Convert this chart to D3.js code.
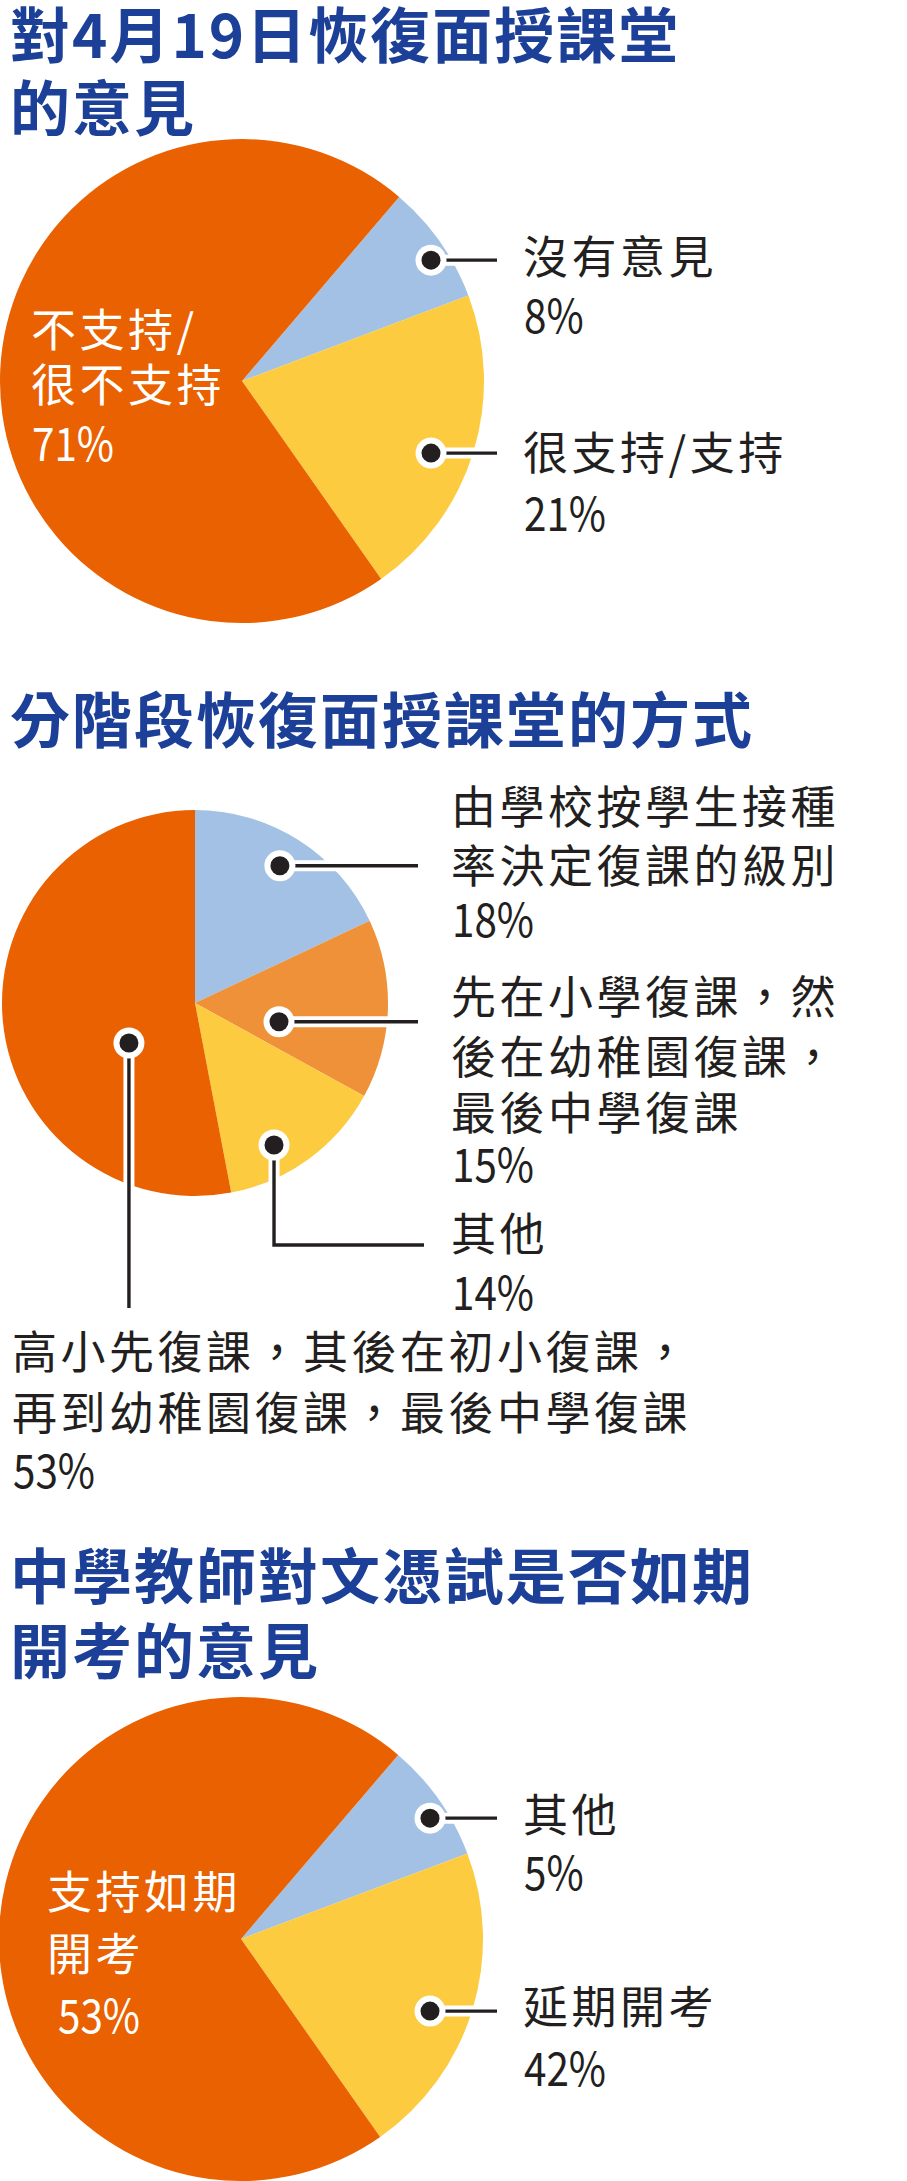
<!DOCTYPE html>
<html><head><meta charset="utf-8">
<script src="https://cdn.jsdelivr.net/npm/d3@7"></script>
<style>html,body{margin:0;padding:0;background:#fff}svg{display:block}</style>
</head><body>
<svg id="c" width="907" height="2181"></svg>
<script>
// ---------- DATA ----------
// Chart 1
const c1Title = ["對4月19日恢復面授課堂", "的意見"];
const c1Labels = [["沒有意見"], ["很支持/支持"], ["不支持/", "很不支持"]];
const c1Values = [8, 21, 71];
// Chart 2
const c2Title = ["分階段恢復面授課堂的方式"];
const c2Labels = [["由學校按學生接種", "率決定復課的級別"],
                  ["先在小學復課，然", "後在幼稚園復課，", "最後中學復課"],
                  ["其他"],
                  ["高小先復課，其後在初小復課，", "再到幼稚園復課，最後中學復課"]];
const c2Values = [18, 15, 14, 53];
// Chart 3
const c3Title = ["中學教師對文憑試是否如期", "開考的意見"];
const c3Labels = [["其他"], ["延期開考"], ["支持如期", "開考"]];
const c3Values = [5, 42, 53];
// wedge sizes as actually drawn in the source artwork (it reuses chart 1's wedges)
const c3DrawnShares = [8, 21, 71];

// ---------- STYLE / LAYOUT ----------
const ORANGE = "#E96100", BLUE = "#A3C1E4", YELLOW = "#FCCB40", LORANGE = "#EE9139";
const TITLE_C = "#1C3F97", INK = "#231F20";
const FONT = "'Noto Sans CJK TC','Noto Sans CJK SC',sans-serif";
const deg = Math.PI / 180;

const charts = [
  {
    title: c1Title, titleBase: [58, 131],
    labels: c1Labels, values: c1Values, shares: c1Values,
    colors: [BLUE, YELLOW, ORANGE],
    cx: 242, cy: 381, r: 242, start: 40.5 * deg,
    ann: [
      {type: "h", t: 0.587, k: 0.927, end: 497, tx: 523, base: [274, 333], fill: INK},
      {type: "h", t: 0.55, k: 0.836, end: 497, tx: 523, base: [470, 531], fill: INK},
      {type: "in", tx: 31, base: [347, 402, 461], fill: "#fff"}
    ]
  },
  {
    title: c2Title, titleBase: [743],
    labels: c2Labels, values: c2Values, shares: c2Values,
    colors: [BLUE, LORANGE, YELLOW, ORANGE],
    cx: 195, cy: 1003, r: 193, start: 0,
    ann: [
      {type: "h", t: 0.49, k: 0.836, end: 418, tx: 451, base: [824, 883, 937], fill: INK},
      {type: "h", t: 0.70, k: 0.446, end: 418, tx: 451, base: [1014, 1074, 1130, 1182], fill: INK},
      {type: "elbow", t: 0.637, k: 0.842, elbowY: 1245, end: 424, tx: 451, base: [1251, 1310], fill: INK},
      {type: "down", t: 0.365, k: 0.40, endY: 1308, tx: 12, base: [1369, 1430, 1488], fill: INK}
    ]
  },
  {
    title: c3Title, titleBase: [1599, 1674],
    labels: c3Labels, values: c3Values, shares: c3DrawnShares,
    colors: [BLUE, YELLOW, ORANGE],
    cx: 241, cy: 1939, r: 242, start: 40.5 * deg,
    ann: [
      {type: "h", t: 0.587, k: 0.927, end: 497, tx: 523, base: [1832, 1890], fill: INK},
      {type: "h", t: 0.55, k: 0.836, end: 497, tx: 523, base: [2024, 2086], fill: INK},
      {type: "in", tx: 47, pctDx: 10, base: [1909, 1971, 2033], fill: "#fff"}
    ]
  }
];

const svg = d3.select("#c");

charts.forEach(ch => {
  const g = svg.append("g");
  // title
  g.selectAll("text.title").data(ch.title).join("text")
    .attr("class", "title")
    .attr("x", 10).attr("y", (d, i) => ch.titleBase[i])
    .attr("font-family", FONT).attr("font-weight", 700)
    .attr("font-size", 60).attr("letter-spacing", 2)
    .attr("fill", TITLE_C).text(d => d);

  // pie
  const pie = d3.pie().sort(null).value(d => d)
    .startAngle(ch.start).endAngle(ch.start + 2 * Math.PI);
  const arcs = pie(ch.shares);
  const arc = d3.arc().innerRadius(0).outerRadius(ch.r);
  g.append("g").attr("transform", `translate(${ch.cx},${ch.cy})`)
    .selectAll("path").data(arcs).join("path")
    .attr("d", arc).attr("fill", (d, i) => ch.colors[i]);

  // leaders
  const line = d3.line();
  const lg = g.append("g");
  ch.ann.forEach((a, i) => {
    if (a.type === "in") return;
    const s = arcs[i];
    const ang = s.startAngle + a.t * (s.endAngle - s.startAngle);
    const p = [ch.cx + a.k * ch.r * Math.sin(ang), ch.cy - a.k * ch.r * Math.cos(ang)];
    let pts;
    if (a.type === "h") pts = [p, [a.end, p[1]]];
    else if (a.type === "elbow") pts = [p, [p[0], a.elbowY], [a.end, a.elbowY]];
    else pts = [p, [p[0], a.endY]];
    lg.append("path").attr("d", line(pts)).attr("fill", "none")
      .attr("stroke", "#fff").attr("stroke-width", 11);
    lg.append("path").attr("d", line(pts)).attr("fill", "none")
      .attr("stroke", INK).attr("stroke-width", 3.4);
    lg.append("circle").attr("cx", p[0]).attr("cy", p[1]).attr("r", 15.5).attr("fill", "#fff");
    lg.append("circle").attr("cx", p[0]).attr("cy", p[1]).attr("r", 9.5).attr("fill", INK);
  });

  // labels: category lines
  ch.ann.forEach((a, i) => {
    const lab = ch.labels[i];
    g.append("g").selectAll("text").data(lab).join("text")
      .attr("x", a.tx)
      .attr("y", (d, j) => a.base[j])
      .attr("font-family", FONT).attr("font-size", 45)
      .attr("letter-spacing", 3.5)
      .attr("fill", a.fill).text(d => d);
    // percentage line (condensed figures, as in the source)
    const px = a.tx + (a.pctDx || 0) + 1, py = a.base[lab.length];
    g.append("text")
      .attr("transform", `translate(${px},${py}) scale(0.86,1)`)
      .attr("font-family", FONT).attr("font-size", 47)
      .attr("fill", a.fill).text(ch.values[i] + "%");
  });
});
</script>
</body></html>
